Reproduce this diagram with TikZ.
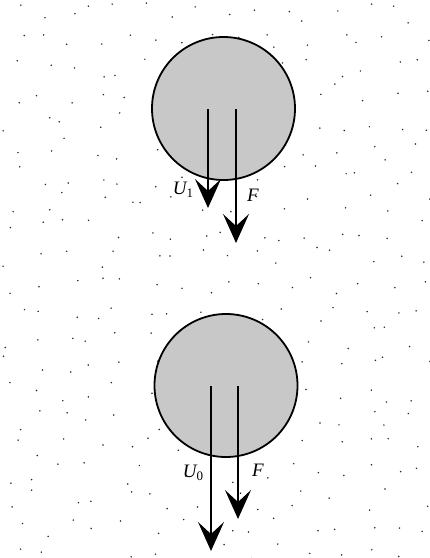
\documentclass[tikz,border=0pt]{standalone}
\usepackage{fontspec}
\setmainfont{Liberation Serif}
\usetikzlibrary{arrows.meta}
\begin{document}
\begin{tikzpicture}[x=1pt,y=-1pt,
  ball/.style={draw=black,line width=1.8pt,fill={rgb,255:red,200;green,200;blue,200}},
  vec/.style={line width=1.4pt,-{Stealth[length=29pt,width=26pt,inset=12pt]}},
  lbl/.style={font=\fontsize{19}{19}\selectfont\itshape,inner sep=0pt},
  dot/.style={fill=black!85}]
\useasboundingbox (0,0) rectangle (430,558);
\fill[white] (0,0) rectangle (430,558);
\pgfmathsetseed{4711}
\foreach \i in {0,...,15}{
  \foreach \j in {0,...,20}{
    \pgfmathsetmacro\xx{\i*27+3+rnd*22}
    \pgfmathsetmacro\yy{\j*27+3+rnd*22}
    \fill[dot] (\xx,\yy) circle (0.85);
  }
}
% upper ball
\node[ball,circle,minimum size=143pt,inner sep=0pt] (b1) at (223.5,108.5) {};
\coordinate (u1s) at (208,109);
\coordinate (u1e) at (208,208);
\coordinate (f1s) at (236,109);
\coordinate (f1e) at (236,243);
\draw[vec] (u1s) -- (u1e);
\draw[vec] (f1s) -- (f1e);
\node[lbl] (lu1) at (183,190) {U\raisebox{-0.35ex}{\fontsize{13}{13}\selectfont\upshape 1}};
\node[lbl] (lf1) at (253,195) {F};
% lower ball
\node[ball,circle,minimum size=143pt,inner sep=0pt] (b2) at (226,385.5) {};
\coordinate (u0s) at (211,386);
\coordinate (u0e) at (211,551);
\coordinate (f0s) at (238,386);
\coordinate (f0e) at (238,519);
\draw[vec] (u0s) -- (u0e);
\draw[vec] (f0s) -- (f0e);
\node[lbl] (lu0) at (193,473) {U\raisebox{-0.35ex}{\fontsize{13}{13}\selectfont\upshape 0}};
\node[lbl] (lf0) at (258,470) {F};
\end{tikzpicture}
\end{document}
